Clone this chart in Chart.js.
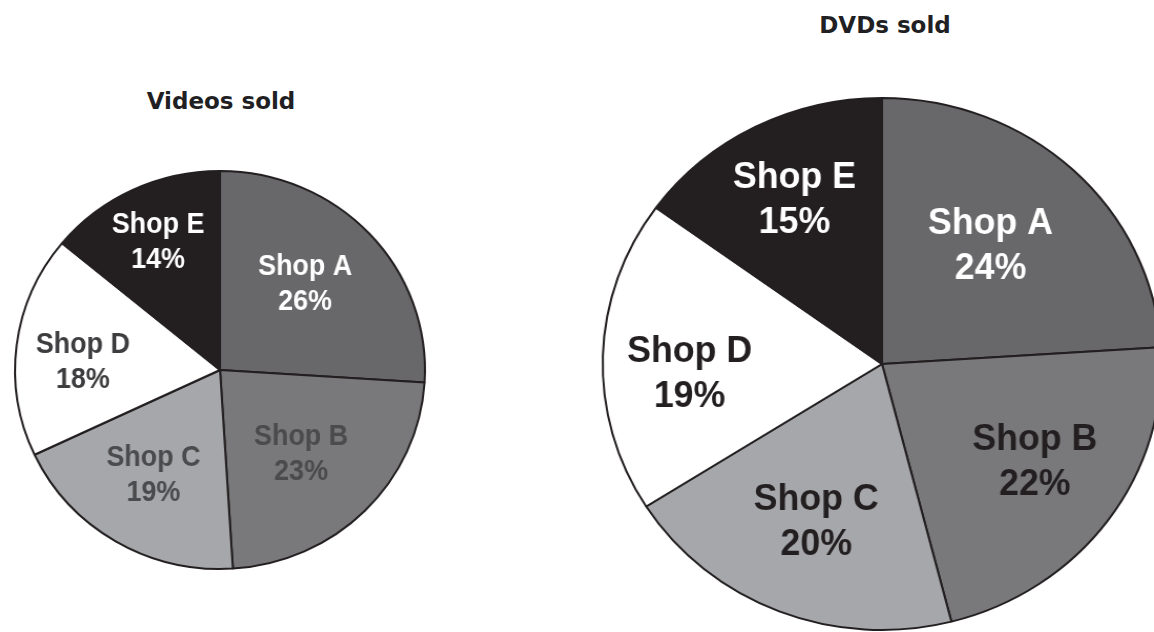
<!DOCTYPE html>
<html>
<head>
<meta charset="utf-8">
<script src="https://cdn.jsdelivr.net/npm/chart.js@4.4.1/dist/chart.umd.min.js"></script>
<style>
    html, body { margin: 0; padding: 0; background: #fff; overflow: hidden; }
    body { width: 1154px; height: 632px; position: relative; }
    .pie-title {
        position: absolute;
        font: bold 23px "DejaVu Sans", Verdana, sans-serif;
        color: #1f1f24;
        transform: translateX(-50%);
        white-space: nowrap;
    }
    .pie-wrap { position: absolute; }
    .pie-wrap canvas { display: block; }
</style>
</head>
<body>
<div class="pie-title" style="left:221px; top:88px;">Videos sold</div>
<div class="pie-title" style="left:885px; top:12px;">DVDs sold</div>

<div class="pie-wrap" id="videoWrap" style="left:0px; top:150px; transform:scaleX(1.03);">
    <canvas id="videoChart" width="440" height="440"></canvas>
</div>
<div class="pie-wrap" id="dvdWrap" style="left:602px; top:84px; transform:scaleX(1.05);">
    <canvas id="dvdChart" width="560" height="560"></canvas>
</div>

<script>
const shops = ['Shop A', 'Shop B', 'Shop C', 'Shop D', 'Shop E'];
const videoShares = [26, 23, 19, 18, 14];
const dvdShares = [24, 22, 20, 19, 15];

const sliceColors = ['#68686a', '#79797b', '#a6a7aa', '#ffffff', '#231f20'];

// label placement inside each slice: fraction of radius, angle nudge in degrees
const videoLabelPos = [[0.60, -3], [0.58, 2], [0.62, 1], [0.67, -4], [0.71, 0]];
const dvdLabelPos = [[0.59, -2], [0.66, -2], [0.64, 0], [0.69, -5], [0.69, 0]];

const sliceLabels = {
    id: 'sliceLabels',
    afterDatasetsDraw(chart, args, opts) {
        const ctx = chart.ctx;
        const meta = chart.getDatasetMeta(0);
        const values = chart.data.datasets[0].data;
        ctx.save();
        ctx.font = 'bold ' + opts.size + 'px "Liberation Sans", Arial, sans-serif';
        ctx.textAlign = 'center';
        ctx.textBaseline = 'middle';
        meta.data.forEach((arc, i) => {
            const [frac, nudge] = opts.positions[i];
            const mid = (arc.startAngle + arc.endAngle) / 2 + nudge * Math.PI / 180;
            const r = arc.outerRadius * frac;
            const x = arc.x + Math.cos(mid) * r;
            const y = arc.y + Math.sin(mid) * r;
            const lines = [chart.data.labels[i], values[i] + '%'];
            ctx.fillStyle = opts.colors[i];
            lines.forEach((text, k) => {
                ctx.save();
                ctx.translate(x, y + (k - 0.5) * opts.gap);
                ctx.scale(opts.squeeze, 1);
                ctx.fillText(text, 0, 0);
                ctx.restore();
            });
        });
        ctx.restore();
    }
};

function makePie(canvasId, values, radius, labelOpts) {
    return new Chart(document.getElementById(canvasId).getContext('2d'), {
        type: 'pie',
        data: {
            labels: shops,
            datasets: [{
                data: values,
                backgroundColor: sliceColors,
                borderColor: '#231f20',
                borderWidth: 2,
                radius: radius
            }]
        },
        options: {
            responsive: false,
            animation: false,
            events: [],
            layout: { padding: 0 },
            plugins: {
                legend: { display: false },
                tooltip: { enabled: false },
                sliceLabels: labelOpts
            }
        },
        plugins: [sliceLabels]
    });
}

makePie('videoChart', videoShares, 199, {
    size: 30,
    gap: 35,
    squeeze: 0.87,
    positions: videoLabelPos,
    colors: ['#ffffff', '#4b4b4d', '#4b4b4d', '#3d3d3f', '#ffffff']
});

makePie('dvdChart', dvdShares, 266, {
    size: 37,
    gap: 45,
    squeeze: 0.92,
    positions: dvdLabelPos,
    colors: ['#ffffff', '#231f20', '#231f20', '#231f20', '#ffffff']
});
</script>
</body>
</html>
